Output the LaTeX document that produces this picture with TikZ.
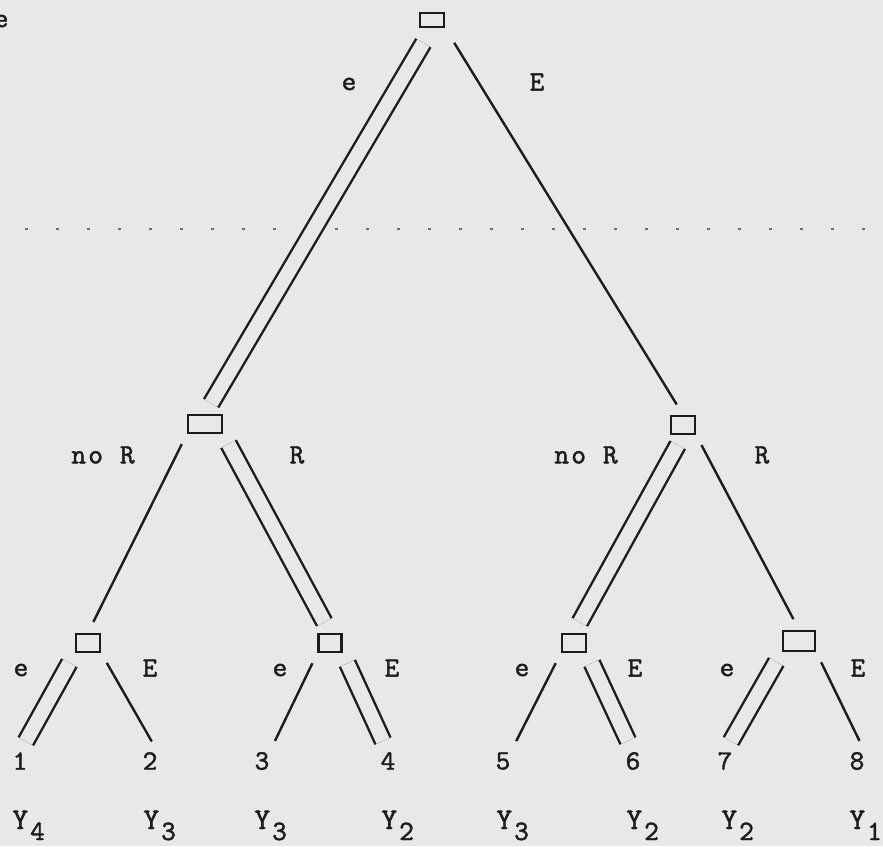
\documentclass[tikz,border=0pt]{standalone}
\usepackage{fontspec}
\newfontfamily\typew{lmmono10-regular.otf}[FakeBold=1.4, LetterSpace=8]
\usetikzlibrary{positioning}
\definecolor{bggray}{RGB}{232,232,232}
\definecolor{inkdark}{RGB}{28,28,28}
\definecolor{tickgray}{RGB}{110,110,110}

\begin{document}
\begin{tikzpicture}[
  x=0.5pt, y=-0.5pt,
  dec/.style={draw=inkdark, line width=1.3pt, inner sep=0pt,
              minimum width=12pt, minimum height=9pt},
  lab/.style={font=\typew\fontsize{14}{16}\selectfont, text=inkdark, inner sep=0pt},
  pay/.style={lab, font=\typew\fontsize{15}{17}\selectfont, anchor=base west},
  move/.style={draw=inkdark, line width=1.2pt, shorten <=5.5pt, shorten >=6pt},
  best/.style={move, double=bggray, double distance=7pt},
]

% background
\fill[bggray] (0,0) rectangle (883,846);
\useasboundingbox (0,0) rectangle (883,846);

% cut-off word at the top left
\node[lab, anchor=east] (cut) at (9,21) {e};

% dotted rule
\draw[tickgray, line width=0.7pt, dash pattern=on 1.5pt off 14pt] (25,229) -- (883,229);

% decision boxes
\node[dec, minimum height=7pt] (root) at (432,20) {};
\node[dec, minimum width=17pt] (L) at (205,424) {};
\node[dec] (R) at (683,425) {};
\node[dec] (LL) at (88,643) {};
\node[dec, minimum width=11.5pt] (LR) at (330,643) {};
\node[dec] (RL) at (574,643) {};
\node[dec, minimum width=16pt, minimum height=10pt] (RR) at (799,641) {};

% outcomes
\foreach \i/\x in {1/20,2/150,3/262,4/388,5/503,6/633,7/725,8/857}
  \node[lab] (n\i) at (\x,761) {\i};

% payoffs
\foreach \i/\x/\k in {1/20/4,2/151/3,3/262/3,4/389/2,5/504/3,6/634/2,7/729/2,8/857/1}
  \node[pay] (y\i) at (\x-8,829) {Y\kern1pt\raisebox{-5.5pt}{\fontsize{14}{16}\selectfont\k}};

% moves
\draw[best, shorten <=8.5pt] (root.south) -- (L.north);
\draw[move, shorten <=8.5pt] (root.south east) -- (R.north);
\draw[move] (L.south west) -- (LL.north);
\draw[best] (L.south east) -- (LR.north);
\draw[best] (R.south) -- (RL.north);
\draw[move] (R.south east) -- (RR.north);
\draw[best] (LL.south west) -- (n1.north);
\draw[move] (LL.south east) -- (n2.north east);
\draw[move] (LR.south west) -- (n3.north east);
\draw[best] (LR.south east) -- (n4.north);
\draw[move] (RL.south west) -- (n5.north east);
\draw[best] (RL.south east) -- (n6.north);
\draw[best] (RR.south west) -- (n7.north);
\draw[move] (RR.south east) -- (n8.north east);

% move labels
\node[lab] (le0) at (349,84) {e};
\node[lab] (lE0) at (537,82) {E};
\node[lab] (lnR1) at (103,455) {no R};
\node[lab] (lR1) at (297,455) {R};
\node[lab] (lnR2) at (586,455) {no R};
\node[lab] (lR2) at (762,455) {R};
\foreach \j/\xe/\xE in {1/21/150,2/280/392,3/522/635,4/727/858}{
  \node[lab] (le\j) at (\xe,670) {e};
  \node[lab] (lE\j) at (\xE,668) {E};
}

\end{tikzpicture}
\end{document}
